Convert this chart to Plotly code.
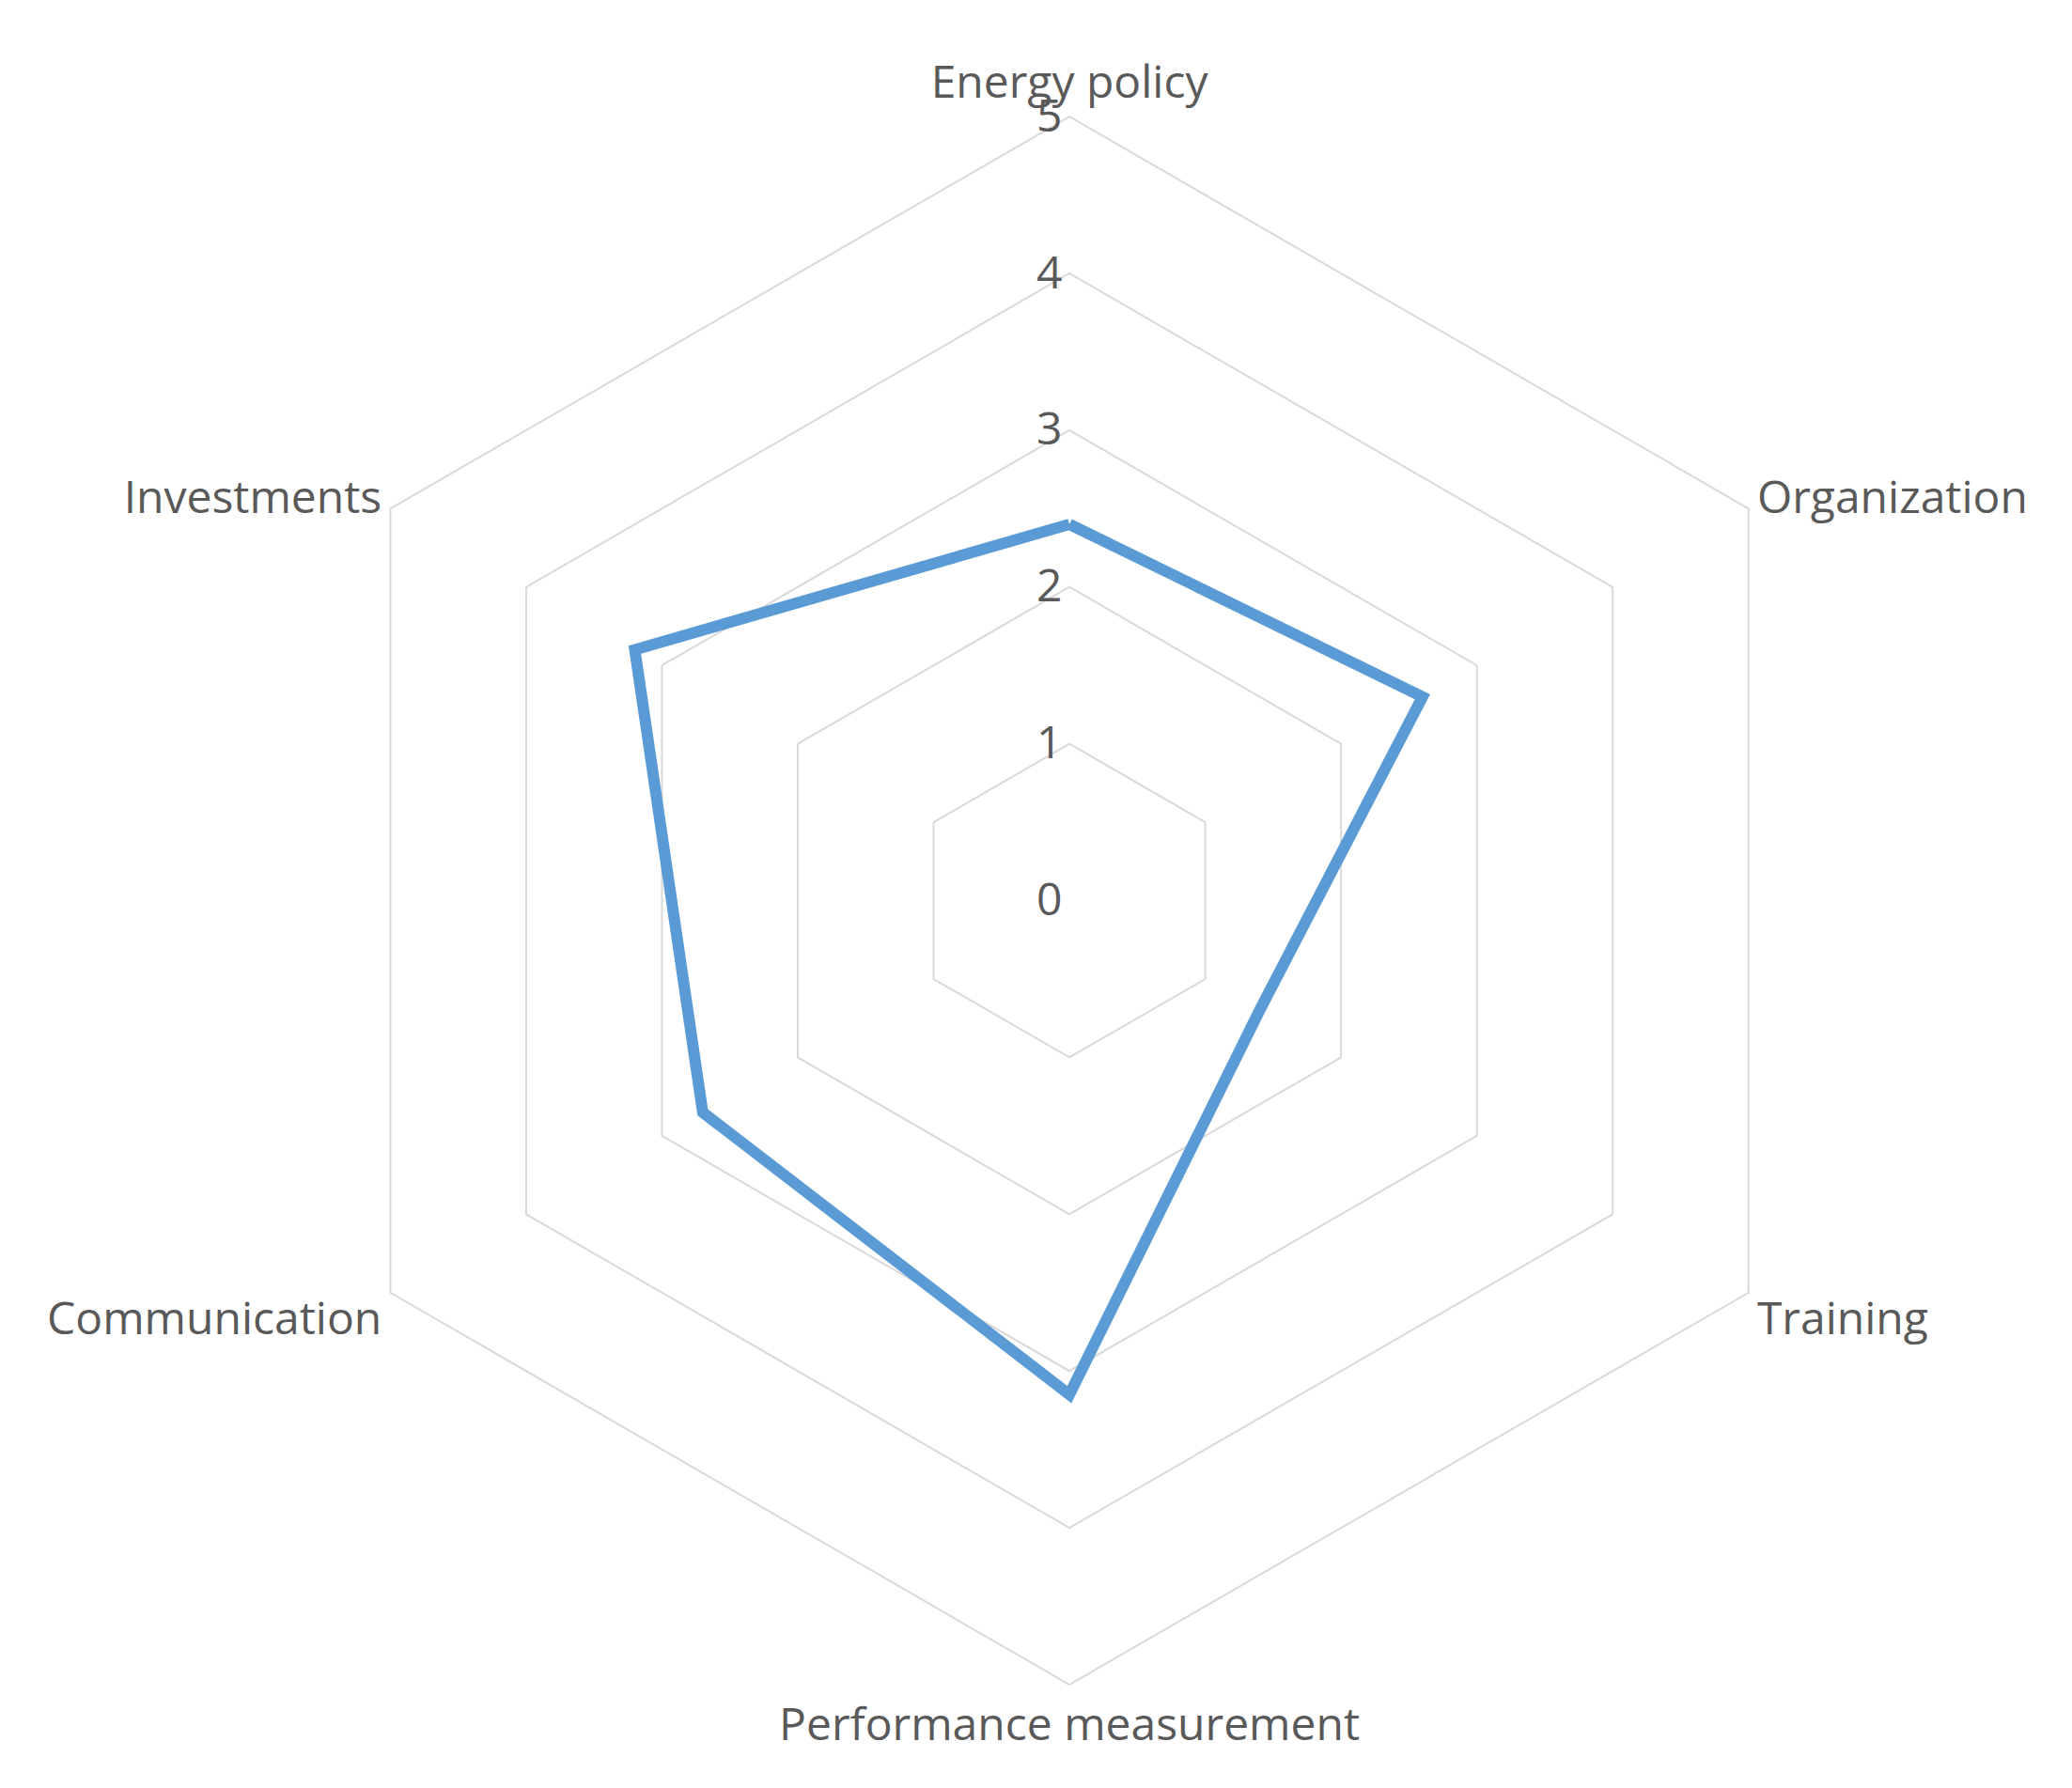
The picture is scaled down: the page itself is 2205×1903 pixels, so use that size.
import plotly.graph_objects as go

categories = ["Energy policy", "Organization", "Training", "Performance measurement", "Communication", "Investments"]
values = [2.4, 2.6, 1.4, 3.15, 2.7, 3.2]

fig = go.Figure(go.Scatterpolar(
    r=values + values[:1],
    theta=categories + categories[:1],
    mode="lines",
    line=dict(color="#5B9BD5", width=12),
))

fig.update_layout(
    width=2205, height=1903,
    paper_bgcolor="white",
    showlegend=False,
    margin=dict(l=0, r=0, t=0, b=0),
    font=dict(family="Open Sans", color="#595959", size=48),
    polar=dict(
        domain=dict(x=[0.134, 0.891], y=[0.062, 0.939]),
        bgcolor="white",
        gridshape="linear",
        angularaxis=dict(rotation=90, direction="clockwise", showgrid=False,
                         showline=True, linecolor="#d9d9d9", linewidth=2,
                         ticks="", tickfont=dict(size=48, color="#595959")),
        radialaxis=dict(range=[0, 5], dtick=1, angle=90, tickangle=90,
                        showline=False, gridcolor="#d9d9d9", gridwidth=2,
                        ticks="", side="counterclockwise",
                        tickfont=dict(size=48, color="#595959")),
    ),
)

fig.write_html("out.html")
